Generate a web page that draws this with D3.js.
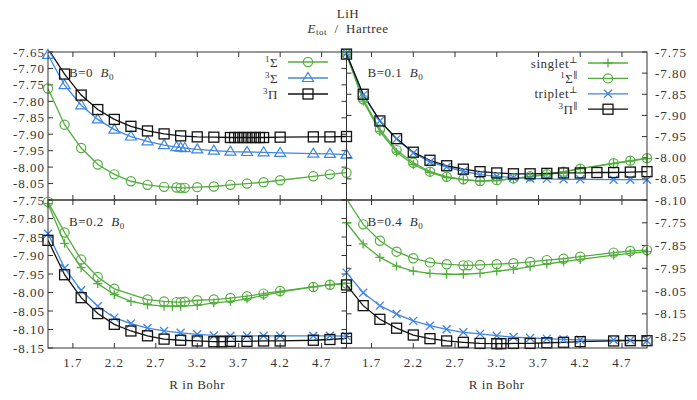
<!DOCTYPE html>
<html>
<head>
<meta charset="utf-8">
<script src="https://cdn.jsdelivr.net/npm/d3@7"></script>
<style>
  body { margin: 0; background: #fff; }
  text { font-family: "Liberation Serif", "DejaVu Serif", serif; fill: #333; letter-spacing: 0.5px; }
  text.tick { letter-spacing: 1px; }
</style>
</head>
<body>
<div id="chart"></div>
<script>
// LiH total energy vs bond length, four field strengths

var svgWidth = 697;
var svgHeight = 400;

// x ticks shared by every panel
var xTicks = [1.7, 2.2, 2.7, 3.2, 3.7, 4.2, 4.7];

// y tick labels per panel
var yTicksB0 = [-7.65, -7.70, -7.75, -7.80, -7.85, -7.90, -7.95, -8.00, -8.05, -8.10];
var yTicksB01 = [-7.75, -7.80, -7.85, -7.90, -7.95, -8.00, -8.05, -8.10];
var yTicksB02 = [-7.75, -7.80, -7.85, -7.90, -7.95, -8.00, -8.05, -8.10, -8.15];
var yTicksB04 = [-7.75, -7.85, -7.95, -8.05, -8.15, -8.25];

// ---- B = 0 ----
var rB0 = [1.4, 1.6, 1.8, 2.0, 2.2, 2.4, 2.6, 2.8, 2.95, 3.0, 3.05, 3.2, 3.4, 3.6, 3.8, 4.0, 4.2, 4.6, 4.8, 5.0];
var eB0_1Sigma = [-7.761, -7.871, -7.942, -7.992, -8.022, -8.043, -8.054, -8.060, -8.062, -8.063, -8.063, -8.061, -8.059, -8.054, -8.050, -8.046, -8.040, -8.028, -8.022, -8.017];
var eB0_3Sigma = [-7.659, -7.751, -7.812, -7.855, -7.886, -7.907, -7.922, -7.933, -7.939, -7.941, -7.942, -7.946, -7.950, -7.953, -7.954, -7.955, -7.957, -7.959, -7.960, -7.962];
var rB0_pi = [1.4, 1.6, 1.8, 2.0, 2.2, 2.4, 2.6, 2.8, 3.0, 3.2, 3.4, 3.6, 3.65, 3.7, 3.75, 3.8, 3.85, 3.9, 3.95, 4.0, 4.2, 4.6, 4.8, 5.0];
var eB0_3Pi = [-7.640, -7.717, -7.781, -7.825, -7.855, -7.876, -7.890, -7.899, -7.905, -7.908, -7.909, -7.910, -7.910, -7.910, -7.910, -7.910, -7.910, -7.910, -7.910, -7.910, -7.909, -7.908, -7.908, -7.907];

// ---- B = 0.1 ----
var rB01 = [1.4, 1.6, 1.8, 2.0, 2.2, 2.4, 2.6, 2.8, 3.0, 3.2, 3.4, 3.6, 3.8, 4.0, 4.2, 4.6, 4.8, 5.0];
var eB01_singPerp = [-7.755, -7.866, -7.938, -7.987, -8.016, -8.035, -8.047, -8.052, -8.056, -8.054, -8.050, -8.045, -8.040, -8.034, -8.026, -8.014, -8.008, -8.002];
var eB01_1SigmaPar = [-7.755, -7.862, -7.933, -7.982, -8.012, -8.033, -8.045, -8.051, -8.055, -8.053, -8.049, -8.044, -8.039, -8.033, -8.026, -8.013, -8.007, -8.001];
var eB01_tripPerp = [-7.753, -7.852, -7.913, -7.956, -7.989, -8.010, -8.022, -8.032, -8.040, -8.044, -8.047, -8.049, -8.050, -8.051, -8.051, -8.052, -8.052, -8.052];
var rB01_pi = [1.4, 1.6, 1.8, 2.0, 2.2, 2.4, 2.6, 2.8, 3.0, 3.2, 3.4, 3.6, 3.8, 4.0, 4.2, 4.4, 4.6, 4.8, 5.0];
var eB01_3PiPar = [-7.755, -7.850, -7.913, -7.955, -7.987, -8.006, -8.019, -8.027, -8.033, -8.036, -8.038, -8.038, -8.037, -8.036, -8.036, -8.035, -8.035, -8.034, -8.033];

// ---- B = 0.2 ----
var rB02_sing = [1.4, 1.6, 1.8, 2.0, 2.2, 2.4, 2.6, 2.8, 2.9, 3.0, 3.2, 3.4, 3.6, 3.8, 4.0, 4.2, 4.6, 4.8, 5.0];
var eB02_singPerp = [-7.760, -7.867, -7.933, -7.976, -8.006, -8.024, -8.033, -8.037, -8.037, -8.037, -8.035, -8.028, -8.024, -8.017, -8.008, -7.999, -7.985, -7.979, -7.975];
var rB02_sigma = [1.4, 1.6, 1.8, 2.0, 2.2, 2.6, 2.8, 2.95, 3.0, 3.05, 3.2, 3.4, 3.6, 3.8, 4.0, 4.2, 4.6, 4.8, 5.0];
var eB02_1SigmaPar = [-7.755, -7.838, -7.911, -7.958, -7.990, -8.019, -8.024, -8.026, -8.026, -8.025, -8.021, -8.019, -8.015, -8.010, -8.003, -7.996, -7.985, -7.979, -7.976];
var rB02 = [1.4, 1.6, 1.8, 2.0, 2.2, 2.4, 2.6, 2.8, 3.0, 3.2, 3.4, 3.6, 3.8, 4.0, 4.2, 4.6, 4.8, 5.0];
var eB02_tripPerp = [-7.841, -7.934, -7.994, -8.037, -8.068, -8.084, -8.096, -8.104, -8.109, -8.113, -8.116, -8.117, -8.117, -8.117, -8.117, -8.117, -8.117, -8.118];
var rB02_pi = [1.4, 1.6, 1.8, 2.0, 2.2, 2.4, 2.6, 2.8, 3.0, 3.2, 3.4, 3.5, 3.6, 3.8, 4.0, 4.2, 4.6, 4.8, 5.0];
var eB02_3PiPar = [-7.859, -7.952, -8.014, -8.057, -8.086, -8.104, -8.117, -8.126, -8.129, -8.131, -8.133, -8.133, -8.132, -8.132, -8.131, -8.131, -8.129, -8.127, -8.124];

// ---- B = 0.4 ----
var rB04 = [1.4, 1.6, 1.8, 2.0, 2.2, 2.4, 2.6, 2.8, 3.0, 3.2, 3.4, 3.6, 3.8, 4.0, 4.2, 4.6, 4.8, 5.0];
var eB04_singPerp = [-7.750, -7.843, -7.902, -7.940, -7.962, -7.972, -7.976, -7.976, -7.972, -7.962, -7.955, -7.943, -7.931, -7.921, -7.911, -7.892, -7.884, -7.877];
var rB04_sigma = [1.4, 1.6, 1.8, 2.0, 2.2, 2.4, 2.6, 2.8, 2.86, 3.0, 3.2, 3.4, 3.6, 3.8, 4.0, 4.2, 4.6, 4.8, 5.0];
var eB04_1SigmaPar = [-7.645, -7.757, -7.829, -7.877, -7.906, -7.924, -7.932, -7.937, -7.937, -7.935, -7.932, -7.928, -7.922, -7.914, -7.908, -7.899, -7.881, -7.874, -7.870];
var eB04_tripPerp = [-7.969, -8.057, -8.114, -8.151, -8.181, -8.202, -8.218, -8.231, -8.238, -8.246, -8.252, -8.256, -8.259, -8.262, -8.264, -8.265, -8.266, -8.268];
var rB04_pi = [1.4, 1.6, 1.8, 2.0, 2.2, 2.4, 2.6, 2.8, 3.0, 3.2, 3.25, 3.4, 3.6, 3.8, 4.0, 4.2, 4.6, 4.8, 5.0];
var eB04_3PiPar = [-8.023, -8.114, -8.174, -8.213, -8.243, -8.259, -8.269, -8.275, -8.280, -8.281, -8.281, -8.280, -8.280, -8.277, -8.275, -8.272, -8.269, -8.268, -8.268];

var green = "#52ad3c";
var blue = "#3f86e2";
var black = "#111";

// panel geometry
var colX = [[48, 346.5], [346.5, 647]];
var rowY = [[52, 200], [200, 348]];

var panels = [
  { col: 0, row: 0, ydom: [-8.10, -7.65], ticks: yTicksB0, labels: yTicksB0.slice(0, 9), side: "left",
    label: ["B=0  ", "B", "0"],
    series: [
      { r: rB0, e: eB0_1Sigma, color: green, marker: "circle", name: ["1", "Σ", ""] },
      { r: rB0, e: eB0_3Sigma, color: blue, marker: "triangle", name: ["3", "Σ", ""] },
      { r: rB0_pi, e: eB0_3Pi, color: black, marker: "square", name: ["3", "Π", ""] }
    ] },
  { col: 1, row: 0, ydom: [-8.10, -7.75], ticks: yTicksB01, labels: yTicksB01, side: "right",
    label: ["B=0.1  ", "B", "0"],
    series: [
      { r: rB01, e: eB01_singPerp, color: green, marker: "plus", name: ["", "singlet", "⊥"] },
      { r: rB01, e: eB01_1SigmaPar, color: green, marker: "circle", name: ["1", "Σ", "∥"] },
      { r: rB01, e: eB01_tripPerp, color: blue, marker: "cross", name: ["", "triplet", "⊥"] },
      { r: rB01_pi, e: eB01_3PiPar, color: black, marker: "square", name: ["3", "Π", "∥"] }
    ] },
  { col: 0, row: 1, ydom: [-8.15, -7.75], ticks: yTicksB02, labels: yTicksB02, side: "left",
    label: ["B=0.2  ", "B", "0"],
    series: [
      { r: rB02_sing, e: eB02_singPerp, color: green, marker: "plus" },
      { r: rB02_sigma, e: eB02_1SigmaPar, color: green, marker: "circle" },
      { r: rB02, e: eB02_tripPerp, color: blue, marker: "cross" },
      { r: rB02_pi, e: eB02_3PiPar, color: black, marker: "square" }
    ] },
  { col: 1, row: 1, ydom: [-8.30, -7.65], ticks: yTicksB04, labels: yTicksB04, side: "right",
    label: ["B=0.4  ", "B", "0"],
    series: [
      { r: rB04, e: eB04_singPerp, color: green, marker: "plus" },
      { r: rB04_sigma, e: eB04_1SigmaPar, color: green, marker: "circle" },
      { r: rB04, e: eB04_tripPerp, color: blue, marker: "cross" },
      { r: rB04_pi, e: eB04_3PiPar, color: black, marker: "square" }
    ] }
];

var svg = d3.select("#chart")
  .append("svg")
  .attr("width", svgWidth)
  .attr("height", svgHeight);

// draw one marker symbol at (x, y)
function drawMarker(g, type, x, y, color) {
  var s = 5;
  if (type === "circle") {
    g.append("circle").attr("cx", x).attr("cy", y).attr("r", 4.6)
      .attr("fill", "none").attr("stroke", color).attr("stroke-width", 1.2);
  } else if (type === "square") {
    g.append("rect").attr("x", x - s).attr("y", y - s).attr("width", 2 * s).attr("height", 2 * s)
      .attr("fill", "none").attr("stroke", color).attr("stroke-width", 1.3);
  } else if (type === "triangle") {
    g.append("path").attr("d", `M${x},${y - 5.5}L${x + 5.5},${y + 3.5}L${x - 5.5},${y + 3.5}Z`)
      .attr("fill", "none").attr("stroke", color).attr("stroke-width", 1.2);
  } else if (type === "plus") {
    g.append("path").attr("d", `M${x - 4.5},${y}H${x + 4.5}M${x},${y - 4.5}V${y + 4.5}`)
      .attr("stroke", color).attr("stroke-width", 1.3);
  } else if (type === "cross") {
    g.append("path").attr("d", `M${x - 4},${y - 4}L${x + 4},${y + 4}M${x - 4},${y + 4}L${x + 4},${y - 4}`)
      .attr("stroke", color).attr("stroke-width", 1.3);
  }
}

var defs = svg.append("defs");

panels.forEach(function(p, i) {
  var x0 = colX[p.col][0], x1 = colX[p.col][1];
  var y0 = rowY[p.row][0], y1 = rowY[p.row][1];

  var xScale = d3.scaleLinear().domain([1.4, 5.0]).range([x0, x1]);
  var yScale = d3.scaleLinear().domain(p.ydom).range([y1, y0]);

  defs.append("clipPath").attr("id", "clip" + i)
    .append("rect").attr("x", x0).attr("y", y0).attr("width", x1 - x0).attr("height", y1 - y0);

  var g = svg.append("g");

  // ticks: x on top and bottom, y on both sides, all inward
  var tickLen = 5;
  xTicks.forEach(function(t) {
    var x = xScale(t);
    g.append("line").attr("x1", x).attr("x2", x).attr("y1", y1).attr("y2", y1 - tickLen).attr("stroke", "#333");
    g.append("line").attr("x1", x).attr("x2", x).attr("y1", y0).attr("y2", y0 + tickLen).attr("stroke", "#333");
  });
  p.ticks.forEach(function(t) {
    var y = yScale(t);
    g.append("line").attr("x1", x0).attr("x2", x0 + tickLen).attr("y1", y).attr("y2", y).attr("stroke", "#333");
    g.append("line").attr("x1", x1).attr("x2", x1 - tickLen).attr("y1", y).attr("y2", y).attr("stroke", "#333");
  });

  // y tick labels
  p.labels.forEach(function(t) {
    g.append("text").attr("class", "tick")
      .attr("x", p.side === "left" ? x0 - 3 : x1 + 8)
      .attr("y", yScale(t) + 4.5)
      .attr("text-anchor", p.side === "left" ? "end" : "start")
      .attr("font-size", 13)
      .text(t.toFixed(2));
  });

  // x tick labels and axis title on bottom row
  if (p.row === 1) {
    xTicks.forEach(function(t) {
      g.append("text").attr("class", "tick").attr("x", xScale(t)).attr("y", 367)
        .attr("text-anchor", "middle").attr("font-size", 13).text(t.toFixed(1));
    });
    g.append("text").attr("x", (x0 + x1) / 2).attr("y", 389)
      .attr("text-anchor", "middle").attr("font-size", 13).text("R in Bohr");
  }

  // curves
  var line = d3.line().x(d => xScale(d[0])).y(d => yScale(d[1]));
  var lines = g.append("g").attr("clip-path", `url(#clip${i})`);
  p.series.forEach(function(s) {
    var pts = s.r.map((r, k) => [r, s.e[k]]);
    lines.append("path").datum(pts)
      .attr("d", line)
      .attr("fill", "none")
      .attr("stroke", s.color)
      .attr("stroke-width", 1.3);
  });

  // markers (only points inside the y range)
  p.series.forEach(function(s) {
    var mg = g.append("g");
    s.r.forEach(function(r, k) {
      var e = s.e[k];
      if (e < p.ydom[0] || e > p.ydom[1]) return;
      drawMarker(mg, s.marker, xScale(r), yScale(e), s.color);
    });
  });

  // panel label
  var lab = g.append("text").attr("x", x0 + 21).attr("y", p.row === 0 ? 77 : 226)
    .attr("font-size", 13).attr("xml:space", "preserve");
  lab.append("tspan").text(p.label[0]);
  lab.append("tspan").attr("font-style", "italic").text(p.label[1]);
  lab.append("tspan").attr("font-size", 9).attr("dy", 3).text(p.label[2]);

  // legend (top row only)
  if (p.row === 0) {
    var lx = p.col === 0 ? 278 : 578;
    var ly = p.col === 0 ? 62 : 63;
    var gap = p.col === 0 ? 16 : 15.4;
    p.series.forEach(function(s, k) {
      var y = ly + k * gap;
      var t = g.append("text").attr("x", lx).attr("y", y + 4.5)
        .attr("text-anchor", "end").attr("font-size", 13);
      if (s.name[0]) t.append("tspan").attr("font-size", 9).attr("dy", -5).text(s.name[0]);
      t.append("tspan").attr("dy", s.name[0] ? 5 : 0).text(s.name[1]);
      if (s.name[2]) t.append("tspan").attr("font-size", 9).attr("dy", -5).text(s.name[2]);
      g.append("line").attr("x1", lx + 10).attr("x2", lx + 50).attr("y1", y).attr("y2", y)
        .attr("stroke", s.color).attr("stroke-width", 1.3);
      drawMarker(g, s.marker, lx + 30, y, s.color);
    });
  }

  // frame
  g.append("rect").attr("x", x0).attr("y", y0).attr("width", x1 - x0).attr("height", y1 - y0)
    .attr("fill", "none").attr("stroke", "#333").attr("stroke-width", 1);
});

// title
svg.append("text").attr("x", 348).attr("y", 18).attr("text-anchor", "middle")
  .attr("font-size", 13).text("LiH");
var sub = svg.append("text").attr("x", 348).attr("y", 33).attr("text-anchor", "middle")
  .attr("font-size", 13).attr("xml:space", "preserve");
sub.append("tspan").attr("font-style", "italic").text("E");
sub.append("tspan").attr("font-size", 9).attr("dy", 2).text("tot");
sub.append("tspan").attr("dy", -2).text("  /  Hartree");
</script>
</body>
</html>
